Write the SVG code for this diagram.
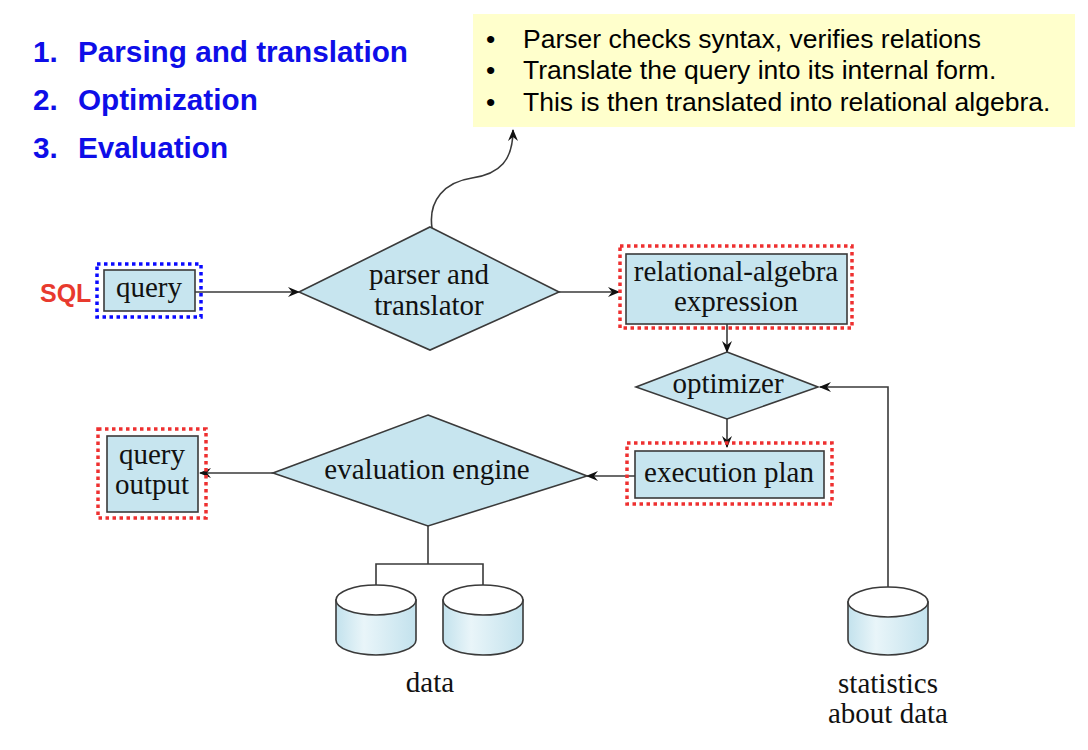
<svg xmlns="http://www.w3.org/2000/svg" width="1088" height="750" viewBox="0 0 1088 750">
<style>
.title{font-family:"Liberation Sans",Arial,sans-serif;font-weight:bold;font-size:29.7px;fill:#0e0ee8}
.note{font-family:"Liberation Sans",Arial,sans-serif;font-size:26.5px;fill:#000}
.lbl{font-family:"Liberation Serif","Times New Roman",serif;font-size:29px;fill:#111;text-anchor:middle}
.shape{fill:#c7e5ef;stroke:#3a3a3a;stroke-width:1.6}
.dotb{fill:none;stroke:#0a0aff;stroke-width:3.5;stroke-dasharray:3.5 3.5}
.dotr{fill:none;stroke:#ee3030;stroke-width:3.5;stroke-dasharray:3.5 3.5}
.wire{fill:none;stroke:#3a3a3a;stroke-width:1.6}
.cyl{fill:url(#cg);stroke:#3a3a3a;stroke-width:1.6}
.cyltop{fill:#fff;stroke:#3a3a3a;stroke-width:1.6}
</style>
<defs>
<marker id="ah" viewBox="0 0 12 10" refX="11" refY="5" markerWidth="12" markerHeight="10" markerUnits="userSpaceOnUse" orient="auto">
<path d="M0,0 L12,5 L0,10 L4,5 Z" fill="#111"/>
</marker>
<linearGradient id="cg" x1="0" y1="0" x2="1" y2="0">
<stop offset="0" stop-color="#c3e2ed"/>
<stop offset="0.35" stop-color="#e9f5f9"/>
<stop offset="1" stop-color="#c3e2ed"/>
</linearGradient>
</defs>
<rect width="1088" height="750" fill="#fff"/>

<g id="steps">
<text class="title" x="33" y="62">1.</text><text class="title" x="78" y="62">Parsing and translation</text>
<text class="title" x="33" y="110">2.</text><text class="title" x="78" y="110">Optimization</text>
<text class="title" x="33" y="158">3.</text><text class="title" x="78" y="158">Evaluation</text>
</g>

<g id="note">
<rect x="473" y="14" width="602" height="113" fill="#ffffcc"/>
<text class="note" x="486" y="48">•</text><text class="note" x="523" y="48">Parser checks syntax, verifies relations</text>
<text class="note" x="486" y="79">•</text><text class="note" x="523" y="79">Translate the query into its internal form.</text>
<text class="note" x="486" y="111">•</text><text class="note" x="523" y="111">This is then translated into relational algebra.</text>
</g>

<g id="connectors">
<path class="wire" d="M432,228 C428,200 445,182 472,178 C500,174 513,160 513,130" marker-end="url(#ah)"/>
<line class="wire" x1="195" y1="292" x2="299" y2="292" marker-end="url(#ah)"/>
<line class="wire" x1="559" y1="292" x2="619" y2="292" marker-end="url(#ah)"/>
<line class="wire" x1="727" y1="324" x2="727" y2="352" marker-end="url(#ah)"/>
<polyline class="wire" points="888,587 888,387 820,387" marker-end="url(#ah)"/>
<line class="wire" x1="727" y1="419" x2="727" y2="447" marker-end="url(#ah)"/>
<line class="wire" x1="635" y1="476" x2="587" y2="476" marker-end="url(#ah)"/>
<line class="wire" x1="273" y1="473" x2="200" y2="473" marker-end="url(#ah)"/>
<polyline class="wire" points="428,526 428,564"/>
<polyline class="wire" points="376,585 376,564 483,564 483,585"/>
</g>

<g id="sql-query">
<text x="40" y="302" font-family="Liberation Sans,Arial,sans-serif" font-weight="bold" font-size="25" fill="#e83a2e">SQL</text>
<rect class="dotb" x="97" y="264" width="104" height="53"/>
<rect class="shape" x="104" y="270" width="91" height="41"/>
<text class="lbl" x="149" y="297">query</text>
</g>

<g id="parser">
<polygon class="shape" points="430,227 559,292 430,350 299,292"/>
<text class="lbl" x="429" y="284">parser and</text>
<text class="lbl" x="429" y="315">translator</text>
</g>

<g id="relalg">
<rect class="dotr" x="620" y="246" width="232" height="82"/>
<rect class="shape" x="626" y="254" width="221" height="70"/>
<text class="lbl" x="736" y="281">relational-algebra</text>
<text class="lbl" x="736" y="311">expression</text>
</g>

<g id="optimizer">
<polygon class="shape" points="727,352 818,387 727,419 636,387"/>
<text class="lbl" x="728" y="393">optimizer</text>
</g>

<g id="execplan">
<rect class="dotr" x="627" y="443" width="205" height="61"/>
<rect class="shape" x="635" y="451" width="189" height="47"/>
<text class="lbl" x="729" y="482">execution plan</text>
</g>

<g id="evaluation">
<polygon class="shape" points="428,415 587,476 428,526 273,473"/>
<text class="lbl" x="427" y="479">evaluation engine</text>
</g>

<g id="queryoutput">
<rect class="dotr" x="98" y="429" width="108" height="89"/>
<rect class="shape" x="107" y="436" width="91" height="76"/>
<text class="lbl" x="152" y="464">query</text>
<text class="lbl" x="152" y="494">output</text>
</g>

<g id="data">
<path class="cyl" d="M336,600 L336,640 A40 15 0 0 0 416,640 L416,600 Z"/>
<ellipse class="cyltop" cx="376" cy="600" rx="40" ry="15"/>
<path class="cyl" d="M443,600 L443,640 A40 15 0 0 0 523,640 L523,600 Z"/>
<ellipse class="cyltop" cx="483" cy="600" rx="40" ry="15"/>
<text class="lbl" x="430" y="692">data</text>
</g>

<g id="statistics">
<path class="cyl" d="M848,602 L848,640 A40 15 0 0 0 928,640 L928,602 Z"/>
<ellipse class="cyltop" cx="888" cy="602" rx="40" ry="15"/>
<text class="lbl" x="888" y="693">statistics</text>
<text class="lbl" x="888" y="723">about data</text>
</g>
</svg>
